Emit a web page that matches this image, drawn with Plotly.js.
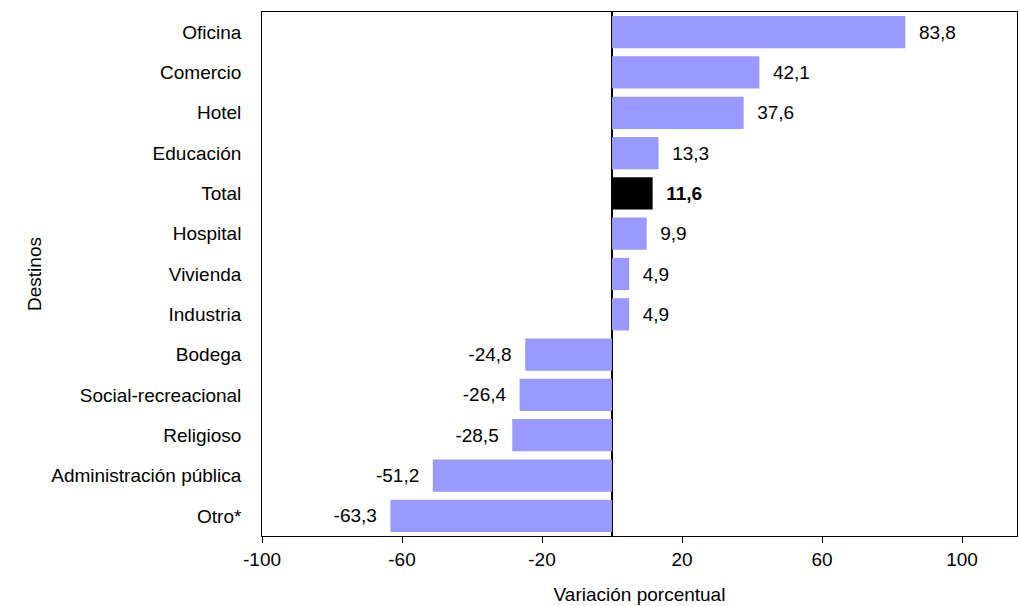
<!DOCTYPE html>
<html>
<head>
<meta charset="utf-8">
<script src="https://cdn.plot.ly/plotly-3.0.1.min.js"></script>
<style>body{margin:0;background:#fff}</style>
</head>
<body>
<div id="chart" style="width:1018px;height:606px"></div>
<script>
const destinos = ['Oficina','Comercio','Hotel','Educación','Total','Hospital','Vivienda','Industria','Bodega','Social-recreacional','Religioso','Administración pública','Otro*'];
const variacion = [83.8, 42.1, 37.6, 13.3, 11.6, 9.9, 4.9, 4.9, -24.8, -26.4, -28.5, -51.2, -63.3];
const xTicks = [-100, -60, -20, 20, 60, 100];

const colors = destinos.map(d => d === 'Total' ? '#000000' : '#9999ff');
const labels = variacion.map((v, i) => {
  let s = v.toFixed(1).replace('.', ',');
  if (destinos[i] === 'Total') s = '<b>' + s + '</b>';
  return v >= 0 ? '  ' + s : s + '  ';
});

const trace = {
  type: 'bar',
  orientation: 'h',
  y: destinos,
  x: variacion,
  marker: {color: colors, line: {width: 0}},
  text: labels,
  textposition: 'outside',
  cliponaxis: false,
  textfont: {family: 'Liberation Sans, Arial', size: 19, color: '#000'},
  hoverinfo: 'none'
};

const layout = {
  width: 1018, height: 606,
  margin: {l: 262, r: 1, t: 12, b: 70},
  paper_bgcolor: '#fff', plot_bgcolor: '#fff',
  showlegend: false,
  bargap: 0.2,
  font: {family: 'Liberation Sans, Arial', size: 19, color: '#000'},
  xaxis: {
    range: [-100, 115.7],
    tickvals: xTicks,
    ticktext: xTicks.map(String),
    ticks: 'outside', ticklen: 6, tickcolor: '#000',
    showgrid: false, zeroline: true, zerolinecolor: '#000', zerolinewidth: 1.5,
    showline: true, linecolor: '#000', mirror: true,
    title: {text: 'Variación porcentual', standoff: 18, font: {size: 19}}
  },
  yaxis: {
    autorange: 'reversed',
    showgrid: false, showline: true, linecolor: '#000', mirror: true,
    ticks: '', ticksuffix: '   ',
    title: {text: 'Destinos', standoff: 4, font: {size: 19}}
  }
};

Plotly.newPlot('chart', [trace], layout, {displayModeBar: false});
</script>
</body>
</html>
